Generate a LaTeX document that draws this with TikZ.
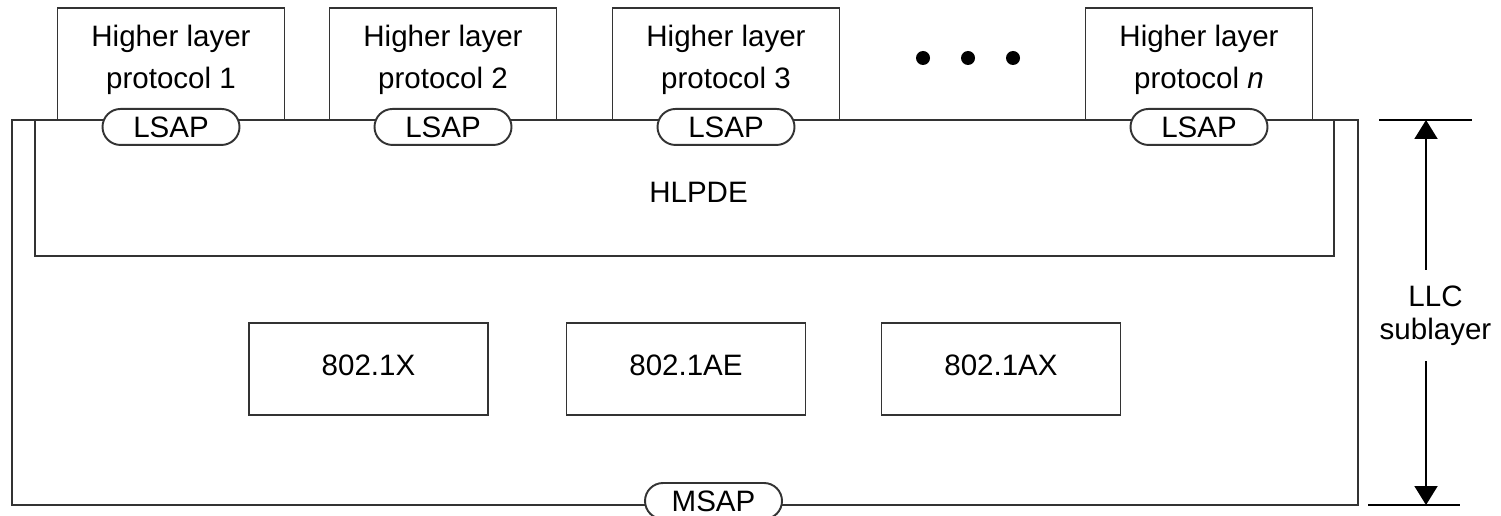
\documentclass[tikz,border=0pt]{standalone}
\usepackage{fontspec}
\setmainfont{Liberation Sans}
\usetikzlibrary{positioning, arrows.meta, shapes.misc}

\begin{document}
\begin{tikzpicture}[
    >={Triangle[width=0.46cm, length=0.38cm]},
    line width=1.1pt,
    font=\fontsize{16.8}{23.9}\selectfont,
    llcbox/.style={
        draw=black!80,
        minimum width=26.92cm,
        minimum height=7.70cm
    },
    protobox/.style={
        draw=black!80,
        align=center,
        minimum width=4.54cm,
        minimum height=2.24cm,
        text depth=0.3cm
    },
    sapbox/.style={
        draw=black!80,
        fill=white,
        rounded rectangle,
        minimum width=2.74cm,
        minimum height=0.72cm,
        inner sep=0pt
    },
    ieeebox/.style={
        draw=black!80,
        minimum width=4.78cm,
        minimum height=1.84cm,
        text height=0.42cm,
        text depth=0.18cm
    },
    ellipsisdot/.style={
        circle,
        fill=black,
        minimum size=0.28cm,
        inner sep=0pt
    }
]
    \useasboundingbox (0, 0) rectangle (30.02, 10.30);

    \node[llcbox] (llc) at (13.70, 4.05) {};
    \node[draw=black!80, minimum width=25.98cm, minimum height=2.72cm,
          label={[xshift=0.28cm, yshift=-0.08cm]center:HLPDE}] (hlpde) at (13.69, 6.54) {};

    \node[protobox] (hl1) at (3.42, 9.02) {Higher layer\\protocol 1};
    \node[protobox] (hl2) at (8.86, 9.02) {Higher layer\\protocol 2};
    \node[protobox] (hl3) at (14.52, 9.02) {Higher layer\\protocol 3};
    \node[protobox] (hln) at (23.98, 9.02) {Higher layer\\protocol \textit{n}};

    \node[ellipsisdot] (dot1) at (18.46, 9.14) {};
    \node[ellipsisdot] (dot2) at (19.36, 9.14) {};
    \node[ellipsisdot] (dot3) at (20.26, 9.14) {};

    \node[sapbox, yshift=-0.12cm] (lsap1) at (hl1.south) {LSAP};
    \node[sapbox, yshift=-0.12cm] (lsap2) at (hl2.south) {LSAP};
    \node[sapbox, yshift=-0.12cm] (lsap3) at (hl3.south) {LSAP};
    \node[sapbox, yshift=-0.12cm] (lsapn) at (hln.south) {LSAP};

    \node[ieeebox] (dot1x) at (7.37, 2.92) {802.1X};
    \node[ieeebox] (dot1ae) at (13.72, 2.92) {802.1AE};
    \node[ieeebox] (dot1ax) at (20.02, 2.92) {802.1AX};

    \node[sapbox] (msap) at (14.27, 0.28) {MSAP};

    % LLC sublayer extent
    \coordinate (toptick) at (28.52, 7.90);
    \coordinate (bottick) at (28.52, 0.20);
    \node[align=center, inner ysep=0.3cm, font=\fontsize{16.8}{18.8}\selectfont] (llclabel) at (28.71, 3.99) {LLC\\sublayer};

    \draw ([xshift=-0.94cm]toptick) -- ([xshift=0.92cm]toptick);
    \draw ([xshift=-1.16cm]bottick) -- ([xshift=0.68cm]bottick);
    \draw[->] (llclabel.north -| toptick) -- (toptick);
    \draw[->] (llclabel.south -| bottick) -- (bottick);
\end{tikzpicture}
\end{document}
